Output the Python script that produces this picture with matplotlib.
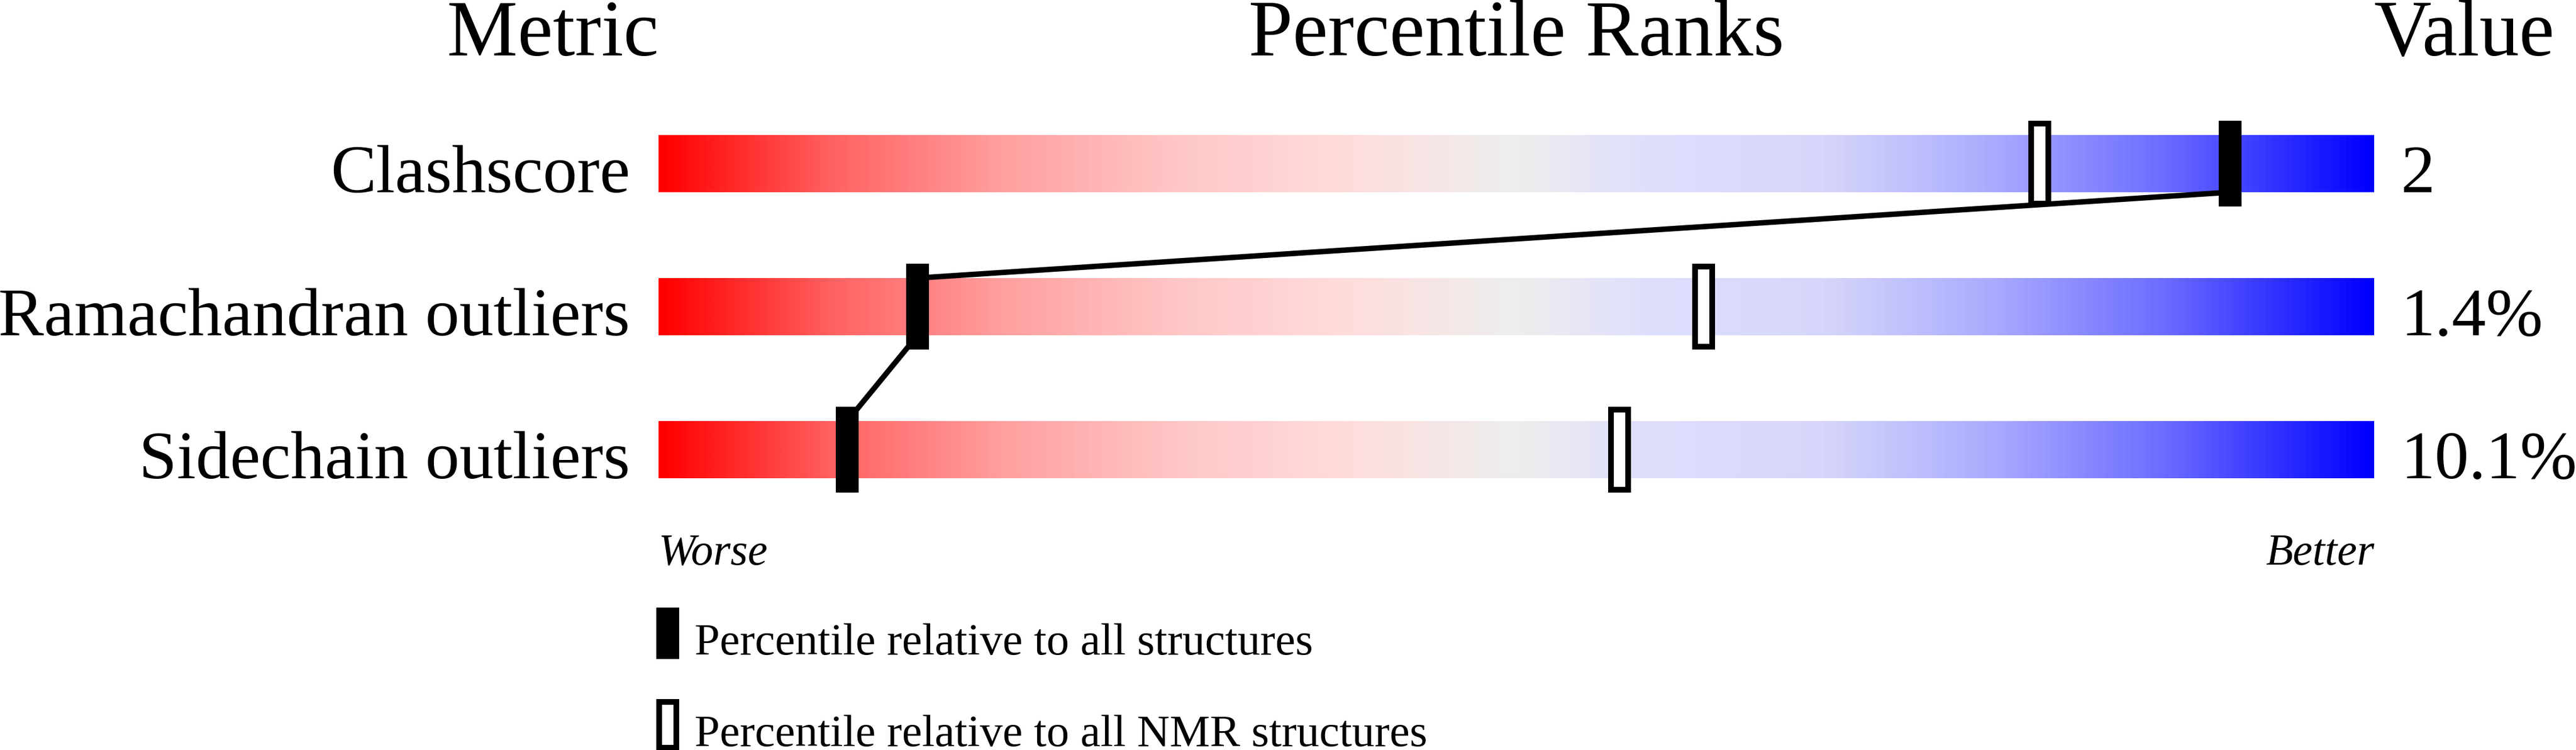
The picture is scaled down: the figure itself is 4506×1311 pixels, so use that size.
"""Validation percentile slider chart (Clashscore / Ramachandran / Sidechain)."""

import matplotlib

matplotlib.use("Agg")
import matplotlib.pyplot as plt
import numpy as np
from matplotlib.colors import LinearSegmentedColormap
from matplotlib.patches import Rectangle

metrics = ["Clashscore", "Ramachandran outliers", "Sidechain outliers"]
values = ["2", "1.4%", "10.1%"]
pct_all = [91.6, 15.1, 11.0]    # percentile relative to all structures
pct_nmr = [80.5, 60.9, 56.0]    # percentile relative to all NMR structures
legend_labels = ["Percentile relative to all structures",
                 "Percentile relative to all NMR structures"]

# layout in pixels (figure is 4506 x 1311 at dpi 100)
W, H = 4506, 1311
X0_PX, X1_PX = 1152, 4153      # slider left / right edge
ROW0_PX, ROW_STEP = 286, 250   # first slider centre, row pitch
PX = (X1_PX - X0_PX) / 100.0   # pixels per percentile unit

slider_cmap = LinearSegmentedColormap.from_list("slider", [
    (0.00, "#ff0000"), (0.10, "#ff6262"), (0.20, "#ffa0a0"),
    (0.30, "#ffc6c6"), (0.40, "#ffdcdc"), (0.50, "#eeeeee"),
    (0.58, "#dedefd"), (0.68, "#d6d6fa"), (0.78, "#aaaaff"),
    (0.88, "#6c6cff"), (1.00, "#0000ff"),
])

plt.rcParams["font.family"] = ["Liberation Serif", "DejaVu Serif"]

fig = plt.figure(figsize=(W / 100, H / 100), dpi=100)
ax = fig.add_axes([0, 0, 1, 1])

grad = np.linspace(0, 1, 512).reshape(1, -1)
bar_h = 100 / ROW_STEP
mk_h = 150 / ROW_STEP
mk_w = 40 / PX
lw_px = 10 * 0.72   # 10 px stroke in points
line_lw = 9.5 * 0.72

for i, (name, val) in enumerate(zip(metrics, values)):
    ax.imshow(grad, extent=(0, 100, i + bar_h / 2, i - bar_h / 2),
              cmap=slider_cmap, aspect="auto", interpolation="bilinear", zorder=1)
    ax.text(-50 / PX, i + bar_h / 2, name, ha="right", va="baseline", fontsize=86)
    ax.text(100 + 47 / PX, i + bar_h / 2, val, ha="left", va="baseline", fontsize=86)
    # NMR percentile: open box
    ax.add_patch(Rectangle((pct_nmr[i] - 15 / PX, i - 70 / ROW_STEP), 30 / PX,
                           140 / ROW_STEP, facecolor="white", edgecolor="black",
                           linewidth=lw_px, zorder=3))
    # all-structures percentile: filled box
    ax.add_patch(Rectangle((pct_all[i] - mk_w / 2, i - mk_h / 2), mk_w, mk_h,
                           facecolor="black", edgecolor="none", zorder=5))

# connecting lines: bottom edge of one slider to top edge of the next
for i in range(len(metrics) - 1):
    ax.plot([pct_all[i], pct_all[i + 1]], [i + bar_h / 2, i + 1 - bar_h / 2],
            color="black", linewidth=line_lw, solid_capstyle="butt", zorder=4)

# headers
hy = (97 - ROW0_PX) / ROW_STEP
ax.text(0, hy, "Metric", ha="right", va="baseline", fontsize=100)
ax.text(50, hy, "Percentile Ranks", ha="center", va="baseline", fontsize=100)
ax.text(100, hy, "Value", ha="left", va="baseline", fontsize=100)

# worse / better
wy = (987 - ROW0_PX) / ROW_STEP
ax.text(0, wy, "Worse", ha="left", va="baseline", fontsize=56, style="italic")
ax.text(100, wy, "Better", ha="right", va="baseline", fontsize=56, style="italic")

# legend
lg_top = [(1062 - ROW0_PX) / ROW_STEP, (1222 - ROW0_PX) / ROW_STEP]
lg_h = 90 / ROW_STEP
lg_x = -4 / PX
ax.add_patch(Rectangle((lg_x, lg_top[0]), mk_w, lg_h, facecolor="black",
                       edgecolor="none", zorder=5))
ax.add_patch(Rectangle((lg_x + 5 / PX, lg_top[1] + 5 / ROW_STEP), 30 / PX,
                       80 / ROW_STEP, facecolor="white", edgecolor="black",
                       linewidth=lw_px, zorder=5))
for top, lab in zip(lg_top, legend_labels):
    ax.text(63 / PX, top + 82 / ROW_STEP, lab, ha="left", va="baseline", fontsize=57)

ax.set_xlim(-X0_PX / PX, (W - X0_PX) / PX)
ax.set_ylim((H - ROW0_PX) / ROW_STEP, -ROW0_PX / ROW_STEP)
ax.axis("off")

fig.savefig("out.png", dpi=100, facecolor="white")
plt.close(fig)
